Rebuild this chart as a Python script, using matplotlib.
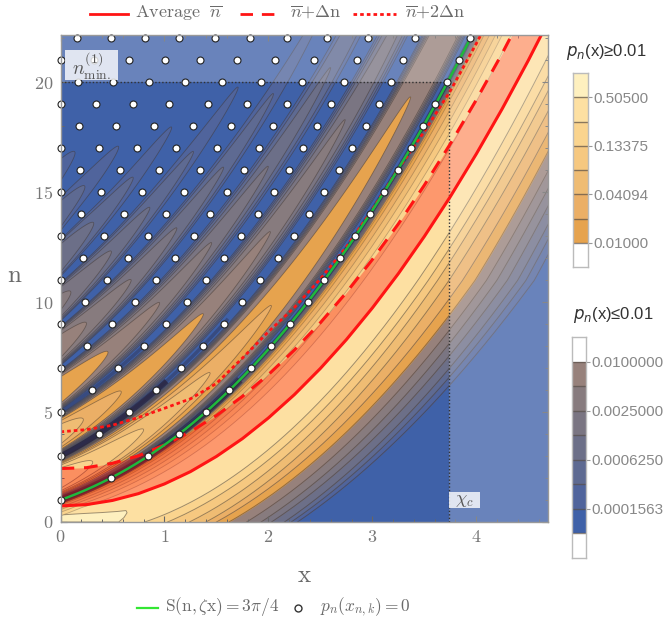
import numpy as np
import matplotlib
matplotlib.use('Agg')
import matplotlib.pyplot as plt
from matplotlib.lines import Line2D
from matplotlib.colors import ListedColormap, to_rgba
from matplotlib.patches import Rectangle

plt.rcParams['mathtext.fontset'] = 'cm'
plt.rcParams['font.family'] = ['Liberation Sans', 'DejaVu Sans']

W, H = 667, 627

# zeros p_n(x)=0, one list for each n
zeros_n = list(range(1, 23))
zeros_x = [
    [0],
    [.483],
    [0, .842],
    [.368, 1.144],
    [0, .662, 1.4],
    [.3, .919, 1.625],
    [0, .557, 1.157, 1.833],
    [.258, .804, 1.369, 2.029],
    [0, .493, 1.015, 1.571, 2.209],
    [.236, .717, 1.218, 1.75, 2.379],
    [0, .45, .919, 1.397, 1.92, 2.536],
    [.217, .65, 1.099, 1.571, 2.09, 2.69],
    [0, .419, .845, 1.282, 1.74, 2.245, 2.837],
    [.197, .611, 1.015, 1.442, 1.901, 2.392, 2.976],
    [0, .387, .782, 1.186, 1.603, 2.052, 2.539, 3.114],
    [.188, .57, .951, 1.346, 1.763, 2.199, 2.678, 3.246],
    [0, .368, .739, 1.112, 1.506, 1.91, 2.337, 2.806, 3.373],
    [.175, .537, .9, 1.272, 1.644, 2.048, 2.466, 2.937, 3.489],
    [0, .345, .698, 1.047, 1.42, 1.795, 2.18, 2.604, 3.063, 3.604],
    [.165, .505, .852, 1.195, 1.558, 1.927, 2.321, 2.732, 3.178, 3.723],
    [0, .32, .662, 1.006, 1.346, 1.699, 2.061, 2.44, 2.851, 3.296, 3.838],
    [.162, .483, .813, 1.144, 1.484, 1.824, 2.183, 2.562, 2.963, 3.412, 3.944],
]

# average curves
mean_x = [0, .25, .5, .75, 1, 1.25, 1.5, 1.75, 2, 2.25, 2.5, 2.75, 3, 3.25, 3.5, 3.75, 4, 4.25, 4.5, 4.75]
mean_n = [.73, .79, .98, 1.29, 1.73, 2.29, 2.98, 3.79, 4.73, 5.79, 6.98, 8.29, 9.73, 11.29, 12.98, 14.79, 16.73, 18.79, 20.98, 23.29]
plus1_n = [2.43, 2.47, 2.67, 3.01, 3.5, 4.11, 4.84, 5.71, 6.7, 7.82, 9.06, 10.43, 11.93, 13.55, 15.31, 17.19, 19.19, 21.31, 23.58, 25.95]
plus2_x = [0, .25, .5, .75, 1, 1.25, 1.5, 1.75, 2, 2.25, 2.5, 2.75, 3, 3.25, 3.5, 3.75, 4, 4.25]
plus2_n = [4.1, 4.2, 4.4, 4.75, 5.17, 5.6, 6.3, 7.45, 8.65, 9.75, 11.05, 12.5, 14.2, 16.05, 17.75, 19.6, 21.75, 24]
chi_c = 3.74
n_min = 20

# level colours, weakest first
gray_colors = ['#50649c', '#5e6a92', '#6c6f88', '#7a7582', '#877b7e', '#97817b']
orange_colors = ['#e6a34e', '#ebaf66', '#efbc73', '#f6c880', '#fad48e', '#fde0a2', '#fef0bf']
blue = '#3f61a8'
line_col = to_rgba('#40352e', .5)

# lower side contours: x where each one crosses n = 0, 11, 23
edge_n = [0, 11, 23]
gray_edges = [[2.28, 4.56, 5.78], [2.22, 4.48, 5.71], [2.155, 4.4, 5.65], [2.03, 4.3, 5.57], [1.93, 4.2, 5.5], [1.79, 4.1, 5.42]]
orange_edges = [[1.62, 3.99, 5.33], [1.5, 3.87, 5.25], [1.4, 3.74, 5.15], [1.24, 3.63, 5.05], [1.03, 3.54, 4.98], [.81, 3.44, 4.88]]

# upper side contours: horizontal distance from the green curve
upper_dist = [.36, .28, .22, .165, .115, .085, .07, .06, .05, .04, .03, .02, .01]
upper_cols = orange_colors[4::-1] + orange_colors[:1] + gray_colors[::-1] + [blue]

# bottom cream lobe outline
cream_x = [0, .2, .4, .55, .63, .64, .61, .56, 0]
cream_n = [.32, .38, .43, .48, .52, .42, .2, 0, 0]

# where each contour of a lobe ends (x), one list per gap between zero chains
lobe_tips = [
    [14, 12, 10, 9, 8, 7, 3.37, 2.03, 1.44, .8, .31],
    [7, 5.5, 4.5, 3.5, 2.74, 2.02, 1.375, .585, .22],
    [5, 3.6, 2.6, 2.0, 1.455, .954, .457],
    [2.6, 2.05, 1.57, 1.12, .68, .25],
    [1.71, 1.28, .86, .49, .1],
    [1.07, .7, .32],
    [.56, .235],
    [.14],
]

x_ticks = [0, 1, 2, 3, 4]
y_ticks = [0, 5, 10, 15, 20]

top_bar_labels = ['0.01000', '0.04094', '0.13375', '0.50500']
low_bar_labels = ['0.0001563', '0.0006250', '0.0025000', '0.0100000']


def px_axes(x0, y0, x1, y1):
    return fig.add_axes([x0 / W, 1 - y1 / H, (x1 - x0) / W, (y1 - y0) / H])


def chain(k):
    cx = [row[-k] for row in zeros_x if len(row) >= k]
    cn = [n for n, row in zip(zeros_n, zeros_x) if len(row) >= k]
    return np.polyfit(cx, cn, min(5, len(cx) - 1))


fig = plt.figure(figsize=(W / 100, H / 100), dpi=100)
ax = px_axes(60.5, 35, 548, 522)
ax.set_xlim(0, 4.69)
ax.set_ylim(0, 22.14)
ax.set_facecolor(blue)

xf = np.linspace(0, 4.69, 500)
nf = np.linspace(0, 23, 200)
z = 1

# lower side bands, outer one first
for col, edge in zip(gray_colors + orange_colors, gray_edges + orange_edges):
    xe = np.sqrt(np.interp(nf, edge_n, np.array(edge) ** 2))
    ax.fill_betweenx(nf, 0, xe, color=col, lw=0, zorder=z)
    ax.plot(xe, nf, color=line_col, lw=.7, zorder=z)
    z += .01
# last band left of the inner edge
ax.fill(cream_x, cream_n, facecolor=orange_colors[6], edgecolor=line_col, lw=.7, zorder=z)
z += .01

# upper side of the main band, next to the green curve
green = chain(1)
slope = np.polyder(green)
for d, col in zip(upper_dist, upper_cols):
    nu = np.polyval(green, xf) - d * np.maximum(np.polyval(slope, xf), 2)
    ax.fill_between(xf, nu, 40, color=col, lw=0, zorder=z)
    ax.plot(xf, nu, color=to_rgba('#40352e', .3), lw=.6, zorder=z)
    z += .01

# lobes between neighbouring chains
all_cols = gray_colors + orange_colors
for j, tips in enumerate(lobe_tips):
    low = chain(j + 1)
    upp = chain(j + 2)
    for i, xt in enumerate(tips):
        xs = np.linspace(0, min(xt, 4.7), 300)
        mid = (np.polyval(low, xs) + np.polyval(upp, xs)) / 2
        half = (np.polyval(upp, xs) - np.polyval(low, xs)) / 2
        f0 = .92 * xt / (xt + .12) * (1 - .03 * i)
        f = f0 * (1 - xs / xt) ** .52
        px = np.r_[xs, xs[::-1]]
        py = np.r_[mid + half * f, (mid - half * f)[::-1]]
        ax.fill(px, py, facecolor=all_cols[i], edgecolor=line_col, lw=.6, zorder=z)
        z += .01

# dark strips where the contours crowd along the chains
xg = np.linspace(0, 4.0, 300)
dark = '#2a2238'
ax.plot(xg, np.polyval(green, xg), color=dark, lw=3.2, alpha=.55, zorder=z)
x2 = np.linspace(0, 1.7, 100)
ax.plot(x2, np.polyval(green, x2), color=dark, lw=5.5, alpha=.6, zorder=z)
x2 = np.linspace(0, 1, 100)
ax.plot(x2, np.polyval(chain(2), x2), color=dark, lw=4, alpha=.75, zorder=z)
x2 = np.linspace(0, 1.6, 100)
ax.plot(x2, np.polyval(chain(2), x2), color=dark, lw=2.5, alpha=.35, zorder=z)
x2 = np.linspace(0, .8, 100)
ax.plot(x2, np.polyval(chain(3), x2), color=dark, lw=2.5, alpha=.35, zorder=z)

# between average and average + spread
ax.fill_between(mean_x, mean_n, plus1_n, color='red', alpha=.32, lw=0, zorder=5)

# lighter parts beyond the limits
ax.add_patch(Rectangle((chi_c, 0), 5, 30, color='white', alpha=.22, lw=0, zorder=6))
ax.add_patch(Rectangle((0, n_min), chi_c, 10, color='white', alpha=.22, lw=0, zorder=6))
ax.plot([0, chi_c], [n_min, n_min], color='#333333', lw=1, ls=(0, (1, 1.5)), zorder=6.5)
ax.plot([chi_c, chi_c], [0, n_min], color='#333333', lw=1, ls=(0, (1, 1.5)), zorder=6.5)

ax.plot(mean_x, mean_n, color='#ff1414', lw=2.2, zorder=7)
ax.plot(mean_x, plus1_n, color='#ff1414', lw=2.2, ls=(0, (4.5, 3.2)), zorder=7)
ax.plot(plus2_x, plus2_n, color='#ff1414', lw=2, ls=(0, (1.3, 1.1)), zorder=7)
ax.plot(xg, np.polyval(green, xg), color='#1fb83c', lw=1.8, zorder=8)

for n, row in zip(zeros_n, zeros_x):
    ax.plot(row, [n] * len(row), 'o', ms=5, mfc='white', mec='#222222', mew=.8, clip_on=False, zorder=9)

# label boxes
ax.add_patch(Rectangle((.045, 20.1), .51, 1.35, color='white', alpha=.8, lw=0, zorder=10))
ax.text(.3, 20.72, r'$n^{(1)}_{\mathrm{min.}}$', fontsize=14, color='#555555', ha='center', va='center', zorder=11)
ax.add_patch(Rectangle((chi_c, .63), .3, .73, color='white', alpha=.8, lw=0, zorder=10))
ax.text(chi_c + .15, .98, r'$\chi_c$', fontsize=13, color='#555555', ha='center', va='center', zorder=11)

ax.set_xticks(x_ticks)
ax.set_yticks(y_ticks)
ax.set_xticks(np.arange(0, 4.7, .2), minor=True)
ax.set_yticks(np.arange(0, 22.1, 1), minor=True)
ax.set_xticklabels(['$\\mathrm{%d}$' % t for t in x_ticks], fontsize=13, color='#777777')
ax.set_yticklabels(['$\\mathrm{%d}$' % t for t in y_ticks], fontsize=13, color='#777777')
ax.tick_params(which='major', direction='in', length=4, width=.8, color='#666666', top=True, right=True, pad=5, zorder=12)
ax.tick_params(which='minor', direction='in', length=2, width=.7, color='#666666', top=True, right=True, zorder=12)
for s in ax.spines.values():
    s.set_color('#999999')
    s.set_linewidth(1)
    s.set_zorder(12)

grey_txt = '#6a6a6a'
fig.text(304 / W, 1 - 575 / H, r'$\mathrm{x}$', fontsize=18, color=grey_txt, ha='center', va='center')
fig.text(15 / W, 1 - 275 / H, r'$\mathrm{n}$', fontsize=18, color=grey_txt, ha='center', va='center')

# top legend
def leg_line(x0, x1, y, **kw):
    fig.add_artist(Line2D([x0 / W, x1 / W], [1 - y / H, 1 - y / H], **kw))


leg_line(90, 128, 14, color='#ff1414', lw=2)
fig.text(135 / W, 1 - 13 / H, r'$\mathrm{Average}\ \ \overline{n}$', fontsize=13, color=grey_txt, va='center')
leg_line(240, 276, 14, color='#ff1414', lw=2, ls=(0, (4.5, 3.2)))
fig.text(290 / W, 1 - 13 / H, r'$\overline{n}\mathrm{+}\Delta\mathrm{n}$', fontsize=13, color=grey_txt, va='center')
leg_line(353, 396, 14, color='#ff1414', lw=2, ls=(0, (1.3, 1.1)))
fig.text(405 / W, 1 - 13 / H, r'$\overline{n}\mathrm{+2}\Delta\mathrm{n}$', fontsize=13, color=grey_txt, va='center')

# bottom legend
leg_line(137, 158, 608, color='#33e633', lw=1.6)
fig.text(165 / W, 1 - 607 / H, r'$\mathrm{S(n,}\zeta\mathrm{x)=3}\pi\mathrm{/4}$', fontsize=12.5, color=grey_txt, va='center')
fig.add_artist(Line2D([298 / W], [1 - 608 / H], marker='o', ms=5, mfc='white', mec='#333333', mew=1))
fig.text(320 / W, 1 - 607 / H, r'$p_n(x_{n,k})\mathrm{=0}$', fontsize=12.5, color=grey_txt, va='center')

# colour bars
top_cells = ['white'] + orange_colors
low_cells = ['white', blue] + gray_colors + ['white']


def color_bar(box, cells, tick_at, labels):
    cax = px_axes(*box)
    cax.pcolormesh([0, 1], np.arange(len(cells) + 1), np.arange(len(cells)).reshape(-1, 1),
                   cmap=ListedColormap(cells), vmin=-.5, vmax=len(cells) - .5)
    cax.hlines(range(1, len(cells)), 0, 1, color='#5a5048', lw=1, alpha=.7)
    cax.set_xticks([])
    cax.yaxis.tick_right()
    cax.set_yticks(tick_at)
    cax.set_yticklabels(labels, fontsize=11, color='#888888')
    cax.tick_params(axis='y', length=3, width=.8, color='#999999', pad=1)
    for s in cax.spines.values():
        s.set_color('#bbbbbb')
        s.set_linewidth(1)


color_bar((573, 73, 588, 267), top_cells, [1, 3, 5, 7], top_bar_labels)
color_bar((572, 337, 586, 558), low_cells, [2, 4, 6, 8], low_bar_labels)

fig.text(566 / W, 1 - 52 / H, '$p_n$(x)\u22650.01', fontsize=12, color='#333333', va='center', math_fontfamily='dejavusans')
fig.text(573 / W, 1 - 315 / H, '$p_n$(x)\u22640.01', fontsize=12, color='#333333', va='center', math_fontfamily='dejavusans')

fig.savefig('out.png', dpi=100)
